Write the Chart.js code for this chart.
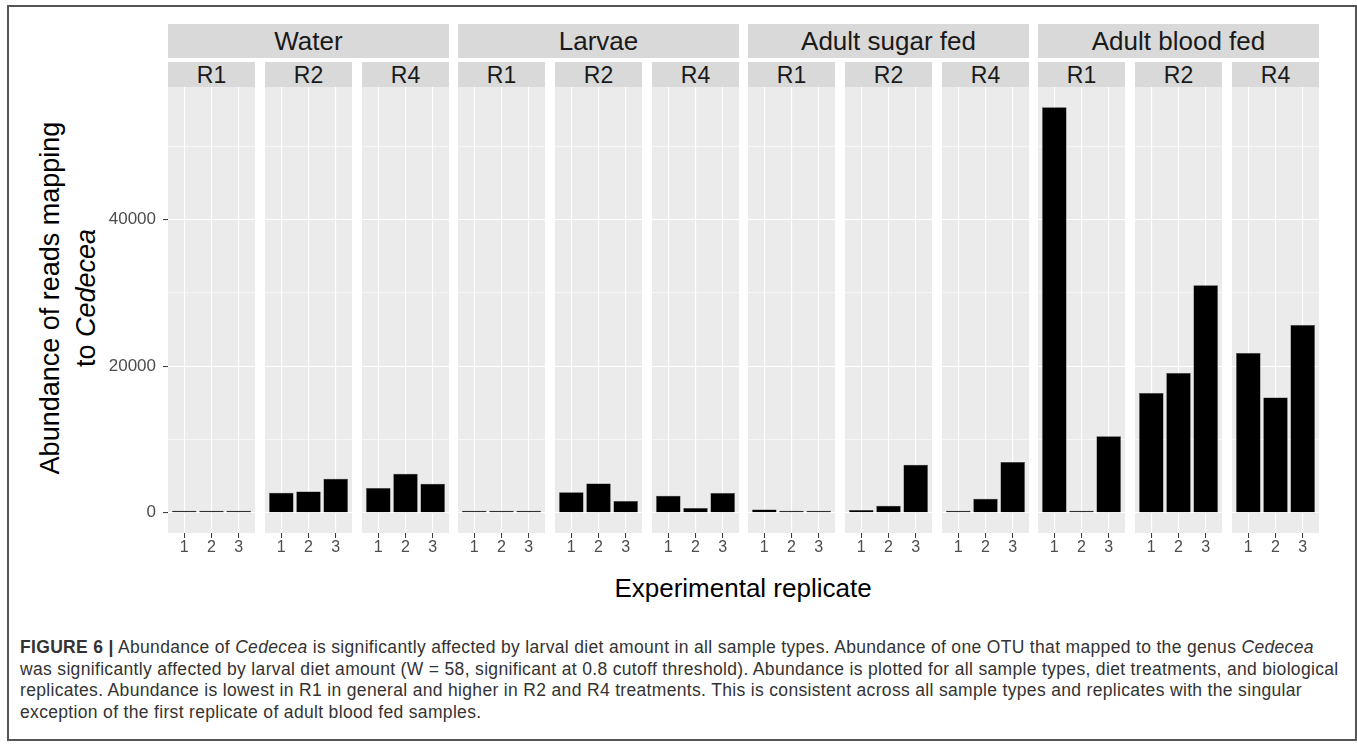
<!DOCTYPE html>
<html>
<head>
<meta charset="utf-8">
<script src="https://cdn.jsdelivr.net/npm/chart.js@4.4.1/dist/chart.umd.min.js"></script>
<style>
  body { margin: 0; background: #fff; font-family: "Liberation Sans", Arial, sans-serif; }
  #frame { position: absolute; left: 7px; top: 5px; width: 1350px; height: 736px; border: 2px solid #555; box-sizing: border-box; }
  .strip { position: absolute; background: #D9D9D9; color: #1A1A1A; text-align: center; white-space: nowrap; }
  .top { top: 24px; height: 34px; line-height: 34px; font-size: 26px; }
  .sub { top: 62px; height: 25px; line-height: 26px; font-size: 23px; }
  canvas { position: absolute; top: 87px; }
  #ytitle { position: absolute; left: 68px; top: 298px; width: 420px; transform: translate(-50%, -50%) rotate(-90deg);
            text-align: center; font-size: 27px; line-height: 36px; color: #000; white-space: nowrap; }
  #xtitle { position: absolute; left: 743px; top: 588px; transform: translate(-50%, -50%); font-size: 26px; color: #000; white-space: nowrap; }
  #caption { position: absolute; left: 20px; top: 637px; font-size: 17.5px; letter-spacing: 0.33px; line-height: 21.5px; color: #333; white-space: nowrap; }
</style>
</head>
<body>
<div id="frame"></div>
<div id="ytitle">Abundance of reads mapping<br>to <i>Cedecea</i></div>
<div id="xtitle">Experimental replicate</div>
<div id="caption"><b>FIGURE 6 |</b> Abundance of <i>Cedecea</i> is significantly affected by larval diet amount in all sample types. Abundance of one OTU that mapped to the genus <i>Cedecea</i><br>was significantly affected by larval diet amount (W = 58, significant at 0.8 cutoff threshold). Abundance is plotted for all sample types, diet treatments, and biological<br>replicates. Abundance is lowest in R1 in general and higher in R2 and R4 treatments. This is consistent across all sample types and replicates with the singular<br>exception of the first replicate of adult blood fed samples.</div>
<script>
// facets
var sampleTypes = ['Water', 'Larvae', 'Adult sugar fed', 'Adult blood fed'];
var treatments = ['R1', 'R2', 'R4'];
var replicates = ['1', '2', '3'];

// abundance per treatment (R1, R2, R4), replicates 1..3
var waterAbund = [[100, 150, 250], [2730, 2910, 4640], [3370, 5320, 3960]];
var larvaeAbund = [[110, 100, 110], [2780, 4000, 1590], [2320, 640, 2690]];
var sugarAbund = [[450, 100, 100], [360, 960, 6550], [180, 1910, 6920]];
var bloodAbund = [[55330, 120, 10420], [16340, 19070, 31030], [21800, 15740, 25620]];

var yTickValues = [0, 10000, 20000, 30000, 40000, 50000];
var yTickLabels = ['0', '', '20000', '', '40000', ''];

var allAbund = [waterAbund, larvaeAbund, sugarAbund, bloodAbund];

var maxAbund = 0;
allAbund.forEach(function(g) { g.forEach(function(r) { r.forEach(function(v) { if (v > maxAbund) maxAbund = v; }); }); });
var yPad = maxAbund * 0.05;

var panelBackground = {
  id: 'panelBackground',
  beforeDraw: function(chart) {
    var a = chart.chartArea;
    var ctx = chart.ctx;
    ctx.save();
    ctx.fillStyle = '#EBEBEB';
    ctx.fillRect(a.left, a.top, a.right - a.left, a.bottom - a.top);
    ctx.restore();
  }
};

var panelW = 87, panelH = 446, axisH = 30, yAxisW = 60;

function makePanel(left, values, showY) {
  var canvas = document.createElement('canvas');
  var w = panelW + (showY ? yAxisW : 0);
  canvas.width = w;
  canvas.height = panelH + axisH;
  canvas.style.left = (left - (showY ? yAxisW : 0)) + 'px';
  document.body.appendChild(canvas);

  return new Chart(canvas, {
    type: 'bar',
    data: {
      datasets: [{
        data: replicates.map(function(r, k) { return { x: k + 1, y: values[k] }; }),
        backgroundColor: '#000',
        borderColor: '#3a3a3a',
        borderWidth: 0.5,
        minBarLength: 2,
        barPercentage: 0.9,
        categoryPercentage: 1
      }]
    },
    options: {
      responsive: false,
      animation: false,
      events: [],
      layout: { padding: 0 },
      plugins: { legend: { display: false }, tooltip: { enabled: false } },
      scales: {
        x: {
          type: 'linear',
          min: 0.4,
          max: 3.6,
          offset: false,
          afterBuildTicks: function(s) { s.ticks = replicates.map(function(r, k) { return { value: k + 1 }; }); },
          ticks: {
            autoSkip: false, maxRotation: 0, padding: 0,
            color: '#4D4D4D', font: { size: 16, family: '"Liberation Sans", Arial, sans-serif' },
            callback: function(v) { return replicates[v - 1]; }
          },
          grid: { offset: false, color: '#FFFFFF', lineWidth: 1.1, drawTicks: true, tickLength: 5, tickColor: '#333', tickWidth: 1 },
          border: { display: false },
          afterFit: function(s) { s.height = axisH; s.paddingLeft = 0; s.paddingRight = 0; }
        },
        y: {
          min: -yPad,
          max: maxAbund + yPad,
          afterBuildTicks: function(s) { s.ticks = yTickValues.map(function(v) { return { value: v }; }); },
          ticks: {
            display: showY, padding: 7,
            color: '#4D4D4D', font: { size: 17, family: '"Liberation Sans", Arial, sans-serif' },
            callback: function(v) { return yTickLabels[yTickValues.indexOf(v)]; }
          },
          grid: {
            color: '#FFFFFF',
            lineWidth: function(c) { return c.tick && c.tick.value % 20000 === 0 ? 1.1 : 0.55; },
            drawTicks: showY, tickLength: 5, tickWidth: 1,
            tickColor: function(c) { return c.tick && c.tick.value % 20000 === 0 ? '#333' : 'rgba(0,0,0,0)'; }
          },
          border: { display: false },
          afterFit: function(s) { s.width = showY ? yAxisW : 0; s.paddingTop = 0; s.paddingBottom = 0; }
        }
      }
    },
    plugins: [panelBackground]
  });
}

var firstLeft = 168.3, step = 96.67;
sampleTypes.forEach(function(name, g) {
  var gLeft = Math.round(firstLeft + g * 3 * step);
  var top = document.createElement('div');
  top.className = 'strip top';
  top.style.left = gLeft + 'px';
  top.style.width = (Math.round(firstLeft + (g * 3 + 2) * step) + panelW - gLeft) + 'px';
  top.textContent = name;
  document.body.appendChild(top);

  treatments.forEach(function(t, j) {
    var i = g * 3 + j;
    var left = Math.round(firstLeft + i * step);
    var sub = document.createElement('div');
    sub.className = 'strip sub';
    sub.style.left = left + 'px';
    sub.style.width = panelW + 'px';
    sub.textContent = t;
    document.body.appendChild(sub);
    makePanel(left, allAbund[g][j], i === 0);
  });
});
</script>
</body>
</html>
